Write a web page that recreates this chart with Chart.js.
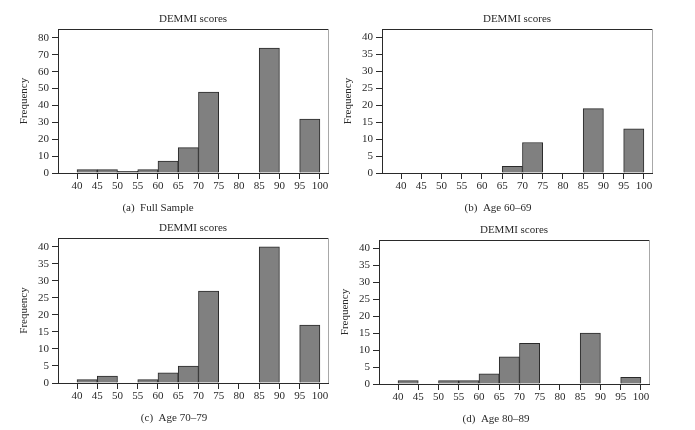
<!DOCTYPE html>
<html lang="en">

<head>
    <meta charset="UTF-8">
    <title>DEMMI scores</title>
    <script src="https://cdn.jsdelivr.net/npm/chart.js"></script>
    <style>
        body { margin: 0; background: #fff; }
        #wrap { position: relative; width: 695px; height: 430px; overflow: hidden; }
        canvas { position: absolute; }
    </style>
</head>

<body>
    <div id="wrap">
        <canvas id="chartA"></canvas>
        <canvas id="chartB"></canvas>
        <canvas id="chartC"></canvas>
        <canvas id="chartD"></canvas>
    </div>

    <script>
        // bins: lower edge of each 5-point DEMMI bin
        const binStarts = [40, 45, 50, 55, 60, 65, 70, 75, 80, 85, 90, 95];
        const xTicks = [40, 45, 50, 55, 60, 65, 70, 75, 80, 85, 90, 95, 100];

        const fullSample = [2, 2, 1, 2, 7, 15, 48, 0, 0, 74, 0, 32];
        const age6069 = [0, 0, 0, 0, 0, 2, 9, 0, 0, 19, 0, 13];
        const age7079 = [1, 2, 0, 1, 3, 5, 27, 0, 0, 40, 0, 17];
        const age8089 = [1, 0, 1, 1, 3, 8, 12, 0, 0, 15, 0, 2];

        const yTicksFull = [0, 10, 20, 30, 40, 50, 60, 70, 80];
        const yTicksAge = [0, 5, 10, 15, 20, 25, 30, 35, 40];

        const chartTitle = 'DEMMI scores';
        const captions = ['(a)\u2002Full Sample', '(b)\u2002Age 60\u201369', '(c)\u2002Age 70\u201379', '(d)\u2002Age 80\u201389'];

        const FONT = "'Liberation Serif', 'DejaVu Serif', serif";
        const INK = '#2a2a2a';

        // draws the title above the plot, the frame and the caption below
        const framePlugin = {
            id: 'frame',
            afterDraw(chart, args, opts) {
                const a = chart.chartArea;
                const c = chart.ctx;
                c.save();
                c.lineWidth = 1;
                c.strokeStyle = INK;
                c.beginPath();
                c.moveTo(a.left, a.top + 0.5);
                c.lineTo(a.right, a.top + 0.5);
                c.stroke();
                c.strokeStyle = '#a8a8a8';
                c.beginPath();
                c.moveTo(a.right + 0.5, a.top);
                c.lineTo(a.right + 0.5, a.bottom);
                c.stroke();
                c.fillStyle = INK;
                c.font = '11px ' + FONT;
                c.textAlign = 'center';
                c.textBaseline = 'middle';
                c.fillText(chartTitle, (a.left + a.right) / 2, a.top - 10);
                c.fillText(opts.caption, a.left + opts.captionShift, a.bottom + 35);
                c.restore();
            }
        };

        function makePanel(id, values, yMax, yTicks, caption, captionShift, plot) {
            const left = plot.L - 58;
            const top = plot.T - 29;
            const width = plot.R - left + 17;
            const height = plot.B + 46 - top;
            const canvas = document.getElementById(id);
            canvas.width = width;
            canvas.height = height;
            canvas.style.left = left + 'px';
            canvas.style.top = top + 'px';

            new Chart(canvas, {
                type: 'bar',
                data: {
                    datasets: [{
                        data: binStarts.map((b, i) => ({ x: b + 2.5, y: values[i] })),
                        backgroundColor: '#808080',
                        borderColor: INK,
                        borderWidth: 1,
                        borderSkipped: 'bottom',
                        barPercentage: 1,
                        categoryPercentage: 1
                    }]
                },
                options: {
                    responsive: false,
                    animation: false,
                    devicePixelRatio: 1,
                    layout: { padding: { left: 0, top: 29, right: 17, bottom: 0 } },
                    plugins: {
                        legend: { display: false },
                        tooltip: { enabled: false },
                        frame: { caption: caption, captionShift: captionShift }
                    },
                    scales: {
                        x: {
                            type: 'linear',
                            min: 35.3,
                            max: 102,
                            offset: false,
                            afterBuildTicks: s => { s.ticks = xTicks.map(v => ({ value: v })); },
                            afterFit: s => { s.height = height - 29 - (plot.B - plot.T); },
                            grid: { drawOnChartArea: false, drawTicks: true, tickLength: 6, color: INK, offset: false },
                            border: { display: true, color: INK, width: 1 },
                            ticks: { color: INK, padding: 1, maxRotation: 0, autoSkip: false, font: { family: FONT, size: 11 } }
                        },
                        y: {
                            min: 0,
                            max: yMax,
                            afterBuildTicks: s => { s.ticks = yTicks.map(v => ({ value: v })); },
                            afterFit: s => { s.width = 58; },
                            grid: { drawOnChartArea: false, drawTicks: true, tickLength: 6, color: INK },
                            border: { display: true, color: INK, width: 1 },
                            ticks: { color: INK, padding: 3, font: { family: FONT, size: 11 } },
                            title: {
                                display: true,
                                text: 'Frequency',
                                color: INK,
                                padding: { top: 18, bottom: 0 },
                                font: { family: FONT, size: 11 }
                            }
                        }
                    }
                },
                plugins: [framePlugin]
            });
        }

        makePanel('chartA', fullSample, 85.3, yTicksFull, captions[0], 100, { L: 58, T: 29, R: 328, B: 173 });
        makePanel('chartB', age6069, 42.5, yTicksAge, captions[1], 116, { L: 382, T: 29, R: 652, B: 173 });
        makePanel('chartC', age7079, 42.6, yTicksAge, captions[2], 116, { L: 58, T: 238, R: 328, B: 383 });
        makePanel('chartD', age8089, 42.5, yTicksAge, captions[3], 117, { L: 379, T: 240, R: 649, B: 384 });
    </script>
</body>

</html>
